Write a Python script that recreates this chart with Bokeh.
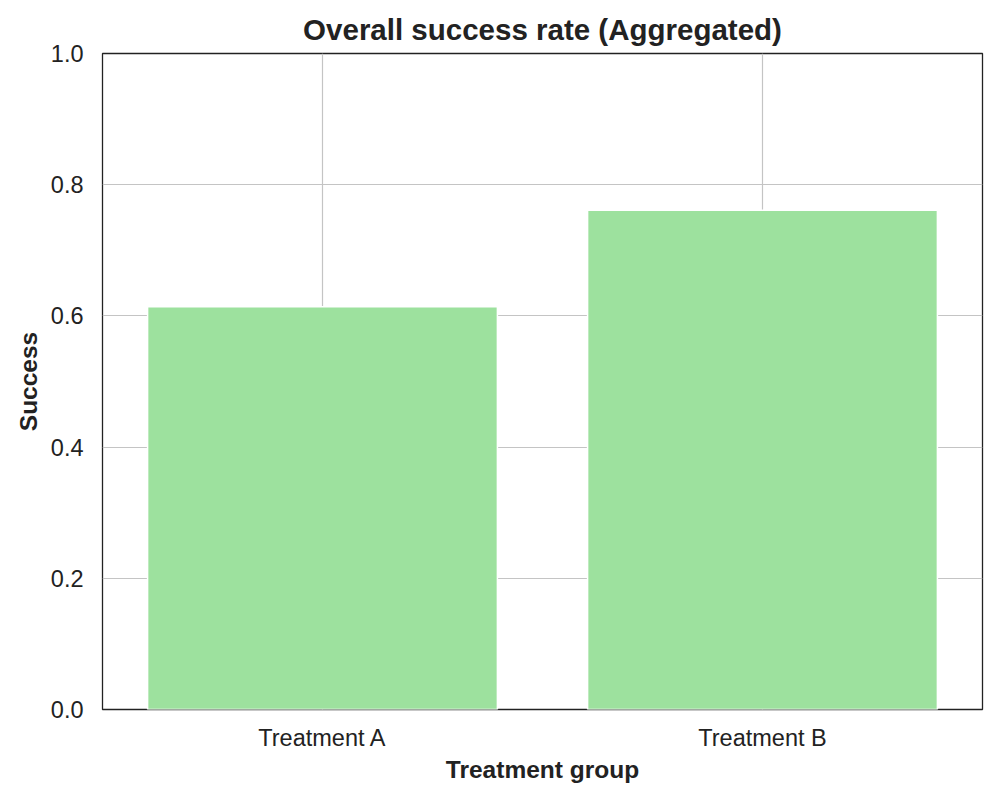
from bokeh.plotting import figure
from bokeh.models import FixedTicker, NumeralTickFormatter
from bokeh.embed import file_html
from bokeh.resources import INLINE

# Aggregated success rate per treatment group
groups = ["Treatment A", "Treatment B"]
success = [0.614, 0.761]
y_ticks = [0.0, 0.2, 0.4, 0.6, 0.8, 1.0]

FONT = "Liberation Sans"

p = figure(
    x_range=groups,
    y_range=(0, 1),
    frame_width=880,
    frame_height=656,
    min_border_left=102,
    min_border_right=18,
    min_border_top=53,
    min_border_bottom=91,
    output_backend="svg",
    toolbar_location=None,
    title="Overall success rate (Aggregated)",
)
p.x_range.range_padding = 0

p.vbar(x=groups, top=success, width=0.795, fill_color="#9de19e",
       line_color="white", line_width=1.5)

p.title.align = "center"
p.title.text_font = FONT
p.title.text_font_size = "29.5px"
p.title.text_font_style = "bold"
p.title.text_color = "#222222"
p.title.standoff = 16

p.outline_line_color = "#222222"
p.outline_line_width = 1.3
p.outline_line_alpha = 1.0
p.background_fill_color = "white"
p.border_fill_color = "white"

for ax in (p.xaxis, p.yaxis):
    ax.axis_line_color = None
    ax.major_tick_line_color = None
    ax.minor_tick_line_color = None
    ax.major_label_text_font = FONT
    ax.major_label_text_font_size = "23.5px"
    ax.major_label_text_color = "#222222"
    ax.axis_label_text_font = FONT
    ax.axis_label_text_font_size = "24.5px"
    ax.axis_label_text_font_style = "bold"
    ax.axis_label_text_color = "#222222"

p.xaxis.axis_label = "Treatment group"
p.yaxis.axis_label = "Success"
p.yaxis.ticker = FixedTicker(ticks=y_ticks)
p.yaxis.formatter = NumeralTickFormatter(format="0.0")
p.xaxis.major_label_standoff = 9
p.yaxis.major_label_standoff = 13
p.xaxis.axis_label_standoff = 2
p.yaxis.axis_label_standoff = 6

p.xgrid.grid_line_color = "#c4c4c4"
p.ygrid.grid_line_color = "#c4c4c4"
p.xgrid.grid_line_width = 1.2
p.ygrid.grid_line_width = 1.2
p.ygrid.ticker = FixedTicker(ticks=y_ticks)

open("out.html", "w").write(file_html(p, INLINE))
